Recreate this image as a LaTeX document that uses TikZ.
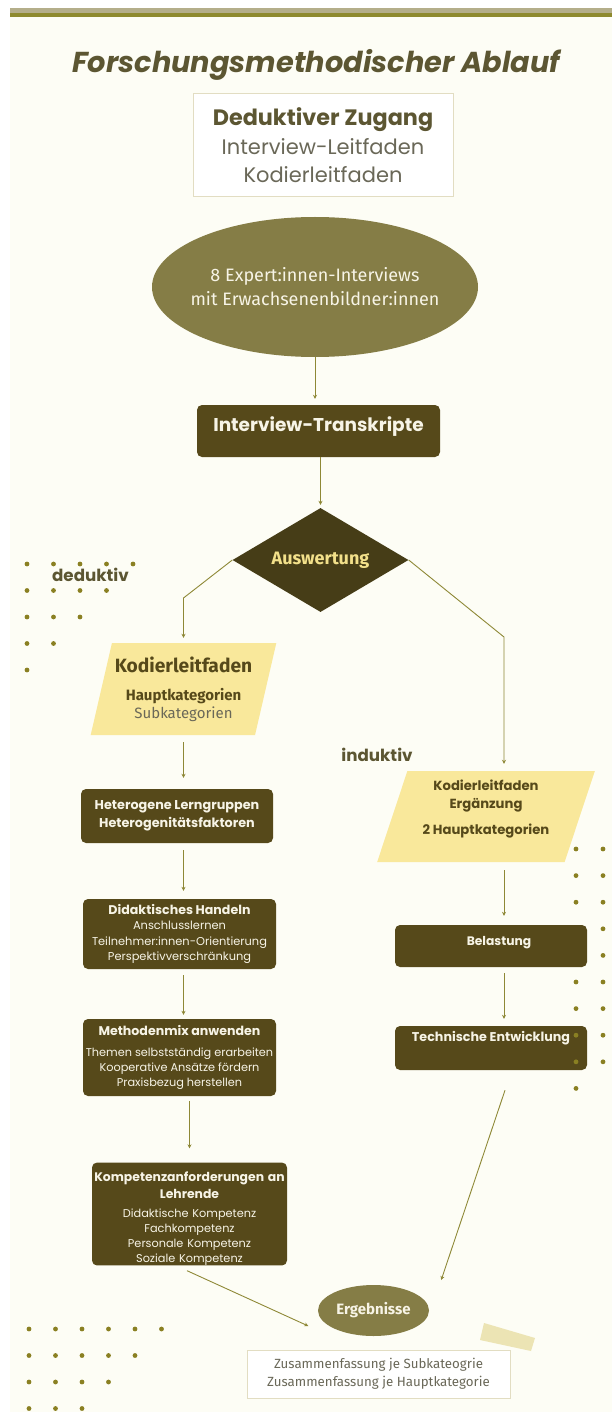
\documentclass[tikz,border=0pt]{standalone}
\usepackage{fontspec}
\setmainfont{Poppins}
\newfontfamily\fira{Fira Sans}
\usepackage{xcolor}
\usetikzlibrary{positioning, shapes.geometric, arrows.meta}

\definecolor{cream}{HTML}{FDFDF5}
\definecolor{barlight}{HTML}{B4AE8A}
\definecolor{bardark}{HTML}{8E8A2E}
\definecolor{olivetext}{HTML}{5C5632}
\definecolor{boxdark}{HTML}{56491A}
\definecolor{olivefill}{HTML}{857D46}
\definecolor{diamondfill}{HTML}{463D17}
\definecolor{paper}{HTML}{F9E89B}
\definecolor{tape}{HTML}{ECE4B4}
\definecolor{linecol}{HTML}{8E8836}
\definecolor{dotcol}{HTML}{8A8022}
\definecolor{framecol}{HTML}{E2DDC2}
\definecolor{greytext}{HTML}{6A6858}
\definecolor{lighttext}{HTML}{F7F4E6}
\definecolor{yellowtext}{HTML}{F2E08A}
\newcommand\fsz[2]{\fontsize{#1}{#2}\selectfont}

\begin{document}
\begin{tikzpicture}[
    x=1pt, y=-1pt,
    every node/.style={align=center, inner sep=0pt},
    framebox/.style={draw=framecol, line width=1pt, fill=white},
    darkbox/.style={fill=boxdark, rounded corners=5pt, text=lighttext},
    olivebubble/.style={ellipse, fill=olivefill, text=lighttext},
    paperslip/.style={trapezium, trapezium stretches=true, fill=paper, text=boxdark},
    sidelabel/.style={font=\fsz{16.7}{16.7}\bfseries, text=olivetext},
    arrow/.style={-{Stealth[length=4pt, width=4pt]}, line width=0.9pt, draw=linecol, shorten >=5pt, shorten <=5pt},
    speck/.style={fill=dotcol}
  ]

  % Background
  \useasboundingbox (0,0) rectangle (612,1412);
  \fill[white] (0,0) rectangle (612,1412);
  \fill[cream] (10,17) rectangle (612,1412);
  \fill[barlight] (10,8) rectangle (612,13);
  \fill[bardark] (10,13) rectangle (612,17);
  \fill[tape] (484,1323) -- (535,1338) -- (531,1351) -- (480,1340) -- cycle;

  % Nodes
  \node[font=\fsz{28.8}{28.8}\bfseries\itshape, text=olivetext] (title) at (316,65) {Forschungsmethodischer Ablauf};
  \node[framebox, minimum width=260pt, minimum height=103pt, font=\fsz{21}{28.5}] (zugang) at (323,145.5)
    {{\fsz{22.3}{28.5}\bfseries\color{olivetext}Deduktiver Zugang}\\{\color{greytext}Interview-Leitfaden}\\{\color{greytext}Kodierleitfaden}};
  \node[olivebubble, minimum width=326pt, minimum height=140pt, inner xsep=-15pt, font=\fira\fsz{18}{24}] (interviews) at (315,287)
    {8 Expert:innen-Interviews\\mit Erwachsenenbildner:innen};
  \node[darkbox, minimum width=243pt, minimum height=52pt, font=\fsz{18.5}{18.5}\bfseries, text height=13.5pt, text depth=12.5pt] (transkripte) at (318.5,431) {Interview-Transkripte};
  \node[diamond, aspect=1.68, fill=diamondfill, minimum width=176pt, minimum height=104pt, text=yellowtext, font=\fira\bfseries\fsz{18}{18}] (auswertung) at (320.5,560) {Auswertung};

  \node[sidelabel] (deduktiv) at (90.5,575) {deduktiv};
  \node[sidelabel] (induktiv) at (377,755) {induktiv};

  % deductive branch
  \node[paperslip, trapezium left angle=72.5, trapezium right angle=107.5, minimum width=186pt, minimum height=92pt, font=\fira\fsz{15}{18}] (kodier) at (183.5,689)
    {{\fsz{19.2}{19.2}\bfseries Kodierleitfaden}\\[10pt]{\bfseries Hauptkategorien}\\{\color{greytext}Subkategorien}};
  \node[darkbox, minimum width=192pt, minimum height=54pt, font=\fsz{12.8}{18}\bfseries] (hetero) at (177,816)
    {Heterogene Lerngruppen\\Heterogenitätsfaktoren};
  \node[darkbox, minimum width=193pt, minimum height=70pt, font=\fsz{11.4}{15.5}] (didakt) at (179.5,934)
    {{\fsz{12.6}{15.5}\bfseries Didaktisches Handeln}\\Anschlusslernen\\Teilnehmer:innen-Orientierung\\Perspektivverschränkung};
  \node[darkbox, minimum width=193pt, minimum height=77pt, font=\fsz{11.3}{15}] (methoden) at (179.5,1057.5)
    {{\fsz{12.6}{15}\bfseries Methodenmix anwenden}\\[6pt]Themen selbstständig erarbeiten\\Kooperative Ansätze fördern\\Praxisbezug herstellen};
  \node[darkbox, minimum height=98pt, text width=191pt, inner xsep=2pt, font=\fsz{11.3}{15}] (kompetenz) at (189.5,1214)
    {{\fsz{12.4}{15}\bfseries\rule{0pt}{19pt}\mbox{Kompetenzanforderungen an}}\\[2pt]{\fsz{12.4}{15}\bfseries Lehrende}\\[4pt]Didaktische Kompetenz\\Fachkompetenz\\Personale Kompetenz\\Soziale Kompetenz};

  % inductive branch
  \node[paperslip, trapezium left angle=71.8, trapezium right angle=108.2, minimum width=218pt, minimum height=91pt, font=\fsz{13.2}{18}\bfseries, text depth=19.5pt] (kodierplus) at (486,816.5)
    {Kodierleitfaden\\Ergänzung\\[8pt]2 Hauptkategorien};
  \node[darkbox, minimum width=192pt, minimum height=42pt, font=\fsz{12.3}{12.3}\bfseries, text height=9pt, text depth=10.2pt] (belastung) at (491,946) {\hspace*{16pt}Belastung};
  \node[darkbox, minimum width=192pt, minimum height=44pt, font=\fsz{12.7}{12.7}\bfseries, text height=9.3pt, text depth=22.3pt] (technik) at (491,1048) {Technische Entwicklung};

  % results
  \node[olivebubble, minimum width=111pt, minimum height=51pt, font=\fira\bfseries\fsz{15}{15}] (ergebnisse) at (373.5,1310.5) {Ergebnisse};
  \node[framebox, minimum width=263pt, minimum height=48pt, text=greytext, font=\fira\fsz{13.3}{18}] (summary) at (378.5,1374)
    {Zusammenfassung je Subkateogrie\\Zusammenfassung je Hauptkategorie};

  \coordinate (leftbend) at (183.5,598);
  \coordinate (rightbend) at (504,637);

  % Arrows
  \draw[arrow, shorten <=0pt, shorten >=6pt] (interviews.south) -- (interviews.south |- transkripte.north);
  \draw[arrow, shorten <=0pt, shorten >=3pt] (auswertung.north |- transkripte.south) -- (auswertung.north);
  \draw[arrow, shorten <=0pt] (auswertung.west) -- (leftbend) -- (kodier.north);
  \draw[arrow, shorten <=0pt, shorten >=7pt] (auswertung.east) -- (rightbend) -- (rightbend |- kodierplus.north);
  \draw[arrow, shorten <=7pt, shorten >=11pt] (kodier.south) -- (kodier.south |- hetero.north);
  \draw[arrow, shorten <=7pt, shorten >=8pt] (kodier.south |- hetero.south) -- (kodier.south |- didakt.north);
  \draw[arrow, shorten <=6pt, shorten >=4pt] (kodier.south |- didakt.south) -- (kodier.south |- methoden.north);
  \draw[arrow, shorten <=5pt, shorten >=14pt] (kompetenz.north |- methoden.south) -- (kompetenz.north);
  \draw[arrow, shorten <=8pt, shorten >=9pt] (rightbend |- kodierplus.south) -- (rightbend |- belastung.north);
  \draw[arrow, shorten <=6pt, shorten >=7pt] (rightbend |- belastung.south) -- (rightbend |- technik.north);
  \draw[arrow, shorten <=0pt, shorten >=0pt] ([xshift=14pt, yshift=-20pt]technik.south) -- ([xshift=12pt, yshift=30.5pt]ergebnisse.east);
  \draw[arrow, shorten <=0pt, shorten >=0pt] ([xshift=-2.5pt, yshift=-5pt]kompetenz.south) -- ([xshift=-9.5pt, yshift=-15.5pt]ergebnisse.west);

  % Dots
  \foreach \r in {0,...,4} {
    \pgfmathtruncatemacro\last{4-\r}
    \foreach \c in {0,...,\last}
      \fill[speck] (27+26.5*\c, 564+26.5*\r) circle (2.4pt);
  }
  \foreach \r in {0,...,3} {
    \pgfmathtruncatemacro\last{5-\r}
    \foreach \c in {0,...,\last}
      \fill[speck] (29+26.5*\c, 1329+26.5*\r) circle (2.4pt);
  }
  \foreach \k in {0,1,2,5,6,7,8,9}
    \fill[speck] (576, 849+26.6*\k) circle (2.4pt);
  \foreach \k in {0,...,8}
    \fill[speck] (603, 849+26.6*\k) circle (2.4pt);

\end{tikzpicture}
\end{document}
